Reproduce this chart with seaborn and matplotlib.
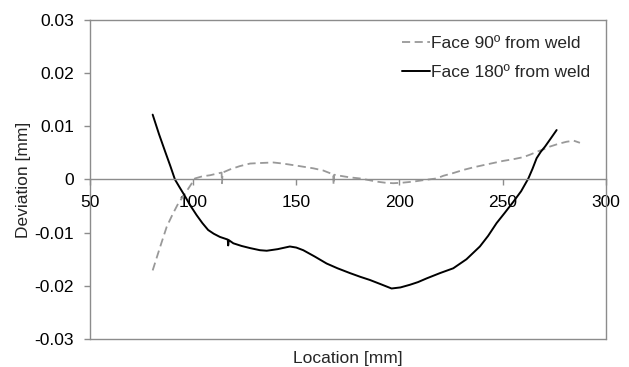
import matplotlib
matplotlib.use("Agg")
import matplotlib.pyplot as plt
import seaborn as sns
import pandas as pd

# Face 90º from weld (gray dashed)
x90 = [80.4, 84.0, 87.2, 90.0, 92.8, 95.5, 97.7, 100.9, 104.5, 108.2, 111.5, 113.8, 114.0, 114.3,
       117.9, 122.5, 127.6, 132.5, 138.9, 143.5, 148.6, 153.5, 158.3, 163.0, 166.3, 167.9, 168.1,
       168.4, 171.2, 176.0, 180.9, 185.0, 189.0, 193.0, 197.0, 201.5, 206.7, 212.0, 218.0, 221.3,
       226.0, 231.0, 236.0, 240.7, 245.5, 250.3, 255.0, 260.0, 263.5, 266.5, 270.0, 273.0, 277.0,
       281.0, 284.5, 287.5]
y90 = [-0.0171, -0.0127, -0.0089, -0.0066, -0.0045, -0.0030, -0.0017, 0.0002, 0.0006, 0.0008,
       0.0011, 0.0013, -0.0007, 0.0013, 0.0019, 0.0025, 0.0030, 0.0031, 0.0032, 0.0030, 0.0027,
       0.0024, 0.0021, 0.0017, 0.0012, 0.0010, -0.0010, 0.0009, 0.0007, 0.0004, 0.0002, -0.0001,
       -0.0004, -0.0006, -0.0007, -0.0006, -0.0004, -0.0001, 0.0002, 0.0007, 0.0012, 0.0018,
       0.0023, 0.0027, 0.0031, 0.0035, 0.0038, 0.0042, 0.0047, 0.0052, 0.0057, 0.0062, 0.0067,
       0.0071, 0.0073, 0.0069]

# Face 180º from weld (black solid)
x180 = [80.4, 83.5, 86.5, 89.0, 91.2, 93.5, 95.7, 98.5, 101.7, 104.5, 107.3, 110.0, 113.0, 116.8,
        117.0, 117.3, 119.5, 123.5, 127.6, 132.4, 135.7, 141.0, 146.9, 150.0, 153.4, 159.0, 164.7,
        170.0, 176.0, 181.0, 185.7, 191.0, 196.2, 200.5, 205.1, 209.0, 213.2, 219.7, 226.1, 232.5,
        239.0, 243.0, 247.1, 251.0, 255.2, 259.0, 262.5, 264.5, 266.5, 268.5, 270.6, 273.5, 276.2]
y180 = [0.0122, 0.0085, 0.0052, 0.0025, 0.0000, -0.0015, -0.0029, -0.0048, -0.0067, -0.0082,
        -0.0095, -0.0102, -0.0108, -0.0113, -0.0124, -0.0114, -0.0120, -0.0125, -0.0129, -0.0133,
        -0.0134, -0.0131, -0.0126, -0.0128, -0.0133, -0.0145, -0.0158, -0.0167, -0.0176, -0.0183,
        -0.0189, -0.0197, -0.0205, -0.0203, -0.0198, -0.0193, -0.0186, -0.0176, -0.0167, -0.0150,
        -0.0126, -0.0106, -0.0082, -0.0063, -0.0042, -0.0022, 0.0002, 0.0020, 0.0040, 0.0052,
        0.0062, 0.0078, 0.0093]

x_ticks = [50, 100, 150, 200, 250, 300]
y_ticks = [-0.03, -0.02, -0.01, 0, 0.01, 0.02, 0.03]
y_tick_labels = ["-0.03", "-0.02", "-0.01", "0", "0.01", "0.02", "0.03"]
label90 = "Face 90º from weld"
label180 = "Face 180º from weld"

sns.set_style("white")
plt.rcParams["font.family"] = ["Liberation Sans", "DejaVu Sans"]

fig = plt.figure(figsize=(6.29, 3.67), dpi=100)
ax = fig.add_axes([0.143, 0.0763, 0.820, 0.8692])

df90 = pd.DataFrame({"x": x90, "y": y90})
df180 = pd.DataFrame({"x": x180, "y": y180})
sns.lineplot(data=df90, x="x", y="y", ax=ax, color="#999999", lw=1.3,
             label=label90, sort=False, estimator=None)
ax.lines[-1].set_dashes((4.5, 2.5))
sns.lineplot(data=df180, x="x", y="y", ax=ax, color="black", lw=1.4,
             label=label180, sort=False, estimator=None)

spine_c = "#8c8c8c"
ax.set_xlim(50, 300)
ax.set_ylim(-0.03, 0.03)
ax.set_xticks(x_ticks)
ax.set_yticks(y_ticks)
ax.set_yticklabels(y_tick_labels)
for s in ax.spines.values():
    s.set_color(spine_c)
    s.set_linewidth(1.0)
ax.spines["bottom"].set_position(("data", 0))
ax.axhline(-0.03, color=spine_c, lw=1.0, clip_on=False, zorder=0)
ax.tick_params(axis="both", which="both", direction="out", length=4.5, width=1.0,
               color=spine_c, labelsize=12.5, labelcolor="black")
ax.tick_params(axis="x", bottom=True, pad=6.5)
ax.tick_params(axis="y", left=True, pad=7)

ax.set_xlabel("Location [mm]", fontsize=12.5)
ax.set_ylabel("Deviation [mm]", fontsize=12.5)
ax.xaxis.set_label_coords(0.5, -0.037)
ax.yaxis.set_label_coords(-0.115, 0.5)

leg = ax.legend(loc="upper right", frameon=False, fontsize=12.5, handlelength=1.6,
                handletextpad=0.1, labelspacing=0.8, borderaxespad=0.3,
                bbox_to_anchor=(0.994, 0.987))

fig.savefig("out.png", dpi=100)
